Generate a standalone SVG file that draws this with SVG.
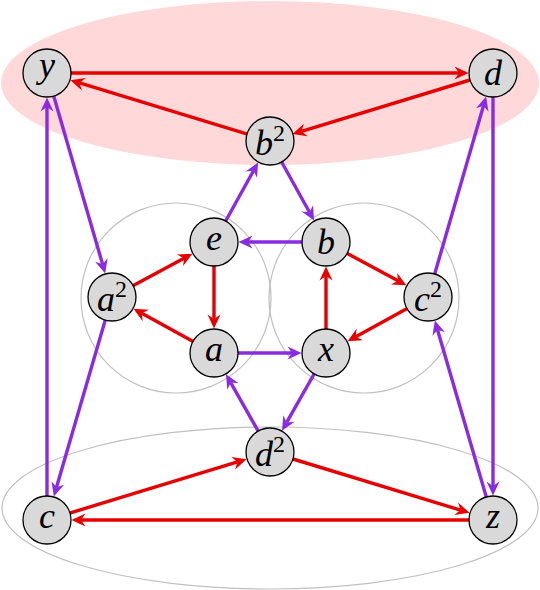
<svg xmlns="http://www.w3.org/2000/svg" width="540" height="590" viewBox="0 0 540 590">
<style>
.n circle{fill:#d9d9d9;stroke:#000;stroke-width:1.3}
.n text{font-family:"Liberation Serif","DejaVu Serif",serif;font-style:italic;font-size:36px;fill:#000;text-anchor:middle}
.n tspan.s{font-style:normal;font-size:24px}
.r{stroke:#e60000;stroke-width:3.4;fill:none}
.p{stroke:#8a2be2;stroke-width:3.4;fill:none}
</style>
<defs>
<marker id="ar" markerUnits="userSpaceOnUse" viewBox="0 -7 14 14" markerWidth="14" markerHeight="14" refX="4.5" refY="0" orient="auto" overflow="visible">
<path d="M14,0 L0,-6.5 L4.5,0 L0,6.5 Z" fill="#e60000"/>
</marker>
<marker id="ap" markerUnits="userSpaceOnUse" viewBox="0 -7 14 14" markerWidth="14" markerHeight="14" refX="4.5" refY="0" orient="auto" overflow="visible">
<path d="M14,0 L0,-6.5 L4.5,0 L0,6.5 Z" fill="#8a2be2"/>
</marker>
</defs>
<g id="regions">
<ellipse cx="270" cy="83" rx="269" ry="82" fill="#ffd9d9"/>
<ellipse cx="270" cy="508" rx="268" ry="81" fill="none" stroke="#c0c0c0" stroke-width="1.2"/>
<circle cx="176" cy="298" r="95" fill="none" stroke="#c0c0c0" stroke-width="1.2"/>
<circle cx="364" cy="298" r="95" fill="none" stroke="#c0c0c0" stroke-width="1.2"/>
</g>
<g id="connectors">
<g class="r" marker-end="url(#ar)">
<line x1="47" y1="73" x2="459" y2="73"/>
<line x1="493" y1="73" x2="301.5" y2="131.3"/>
<line x1="270" y1="141" x2="79.5" y2="82.9"/>
<line x1="112" y1="297" x2="184" y2="258.2"/>
<line x1="214" y1="242" x2="214" y2="319"/>
<line x1="214" y1="353" x2="141.8" y2="313.3"/>
<line x1="326" y1="242" x2="398" y2="280.8"/>
<line x1="428" y1="297" x2="355.8" y2="336.7"/>
<line x1="326" y1="353" x2="326" y2="276"/>
<line x1="47" y1="520" x2="237.5" y2="461.9"/>
<line x1="270" y1="452" x2="460.5" y2="510.1"/>
<line x1="493" y1="520" x2="81" y2="520"/>
</g>
<g class="p" marker-end="url(#ap)">
<line x1="47" y1="520" x2="47" y2="107"/>
<line x1="47" y1="73" x2="102.6" y2="264.3"/>
<line x1="112" y1="297" x2="56.5" y2="487.3"/>
<line x1="214" y1="242" x2="253.5" y2="170.7"/>
<line x1="270" y1="141" x2="309.5" y2="212.3"/>
<line x1="326" y1="242" x2="248" y2="242"/>
<line x1="214" y1="353" x2="292" y2="353"/>
<line x1="326" y1="353" x2="286.7" y2="422.4"/>
<line x1="270" y1="452" x2="230.7" y2="382.6"/>
<line x1="428" y1="297" x2="483.5" y2="105.7"/>
<line x1="493" y1="73" x2="493" y2="486"/>
<line x1="493" y1="520" x2="437.5" y2="329.7"/>
</g>
</g>
<g id="y" class="n"><circle cx="47" cy="73" r="24"/><text x="47" y="77">y</text></g>
<g id="d" class="n"><circle cx="493" cy="73" r="24"/><text x="493" y="85">d</text></g>
<g id="b2" class="n"><circle cx="270" cy="141" r="24"/><text x="270" y="155">b<tspan class="s" dy="-14">2</tspan></text></g>
<g id="e" class="n"><circle cx="214" cy="242" r="24"/><text x="214" y="250">e</text></g>
<g id="b" class="n"><circle cx="326" cy="242" r="24"/><text x="326" y="254">b</text></g>
<g id="a2" class="n"><circle cx="112" cy="297" r="24"/><text x="112" y="311">a<tspan class="s" dy="-14">2</tspan></text></g>
<g id="c2" class="n"><circle cx="428" cy="297" r="24"/><text x="428" y="311">c<tspan class="s" dy="-14">2</tspan></text></g>
<g id="a" class="n"><circle cx="214" cy="353" r="24"/><text x="214" y="361">a</text></g>
<g id="x" class="n"><circle cx="326" cy="353" r="24"/><text x="326" y="361">x</text></g>
<g id="d2" class="n"><circle cx="270" cy="452" r="24"/><text x="270" y="466">d<tspan class="s" dy="-14">2</tspan></text></g>
<g id="c" class="n"><circle cx="47" cy="520" r="24"/><text x="47" y="528">c</text></g>
<g id="z" class="n"><circle cx="493" cy="520" r="24"/><text x="493" y="528">z</text></g>
</svg>
